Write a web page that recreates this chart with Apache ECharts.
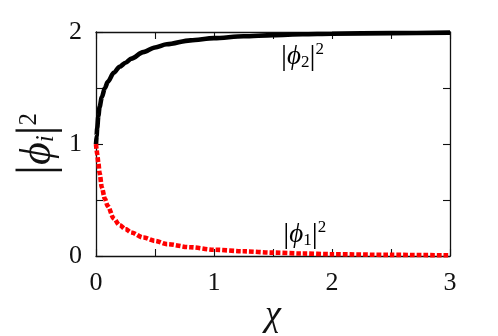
<!DOCTYPE html>
<html>
<head>
<meta charset="utf-8">
<script src="https://cdn.jsdelivr.net/npm/echarts@6/dist/echarts.min.js"></script>
<style>html,body{margin:0;padding:0;background:#fff}#c{width:498px;height:336px}</style>
</head>
<body>
<div id="c"></div>
<script>
var chi   = [0, 0.005, 0.01, 0.02, 0.03, 0.05, 0.075, 0.1, 0.15, 0.2, 0.25, 0.3, 0.4, 0.5, 0.6, 0.8, 1.0, 1.25, 1.5, 1.75, 2.0, 2.5, 3.0];
var phi2  = [1.0, 1.07, 1.14, 1.25, 1.33, 1.42, 1.50, 1.555, 1.635, 1.69, 1.725, 1.762, 1.82, 1.862, 1.89, 1.925, 1.945, 1.962, 1.972, 1.98, 1.985, 1.99, 1.994];
var phi1  = [1.0, 0.95, 0.91, 0.83, 0.743, 0.61, 0.51, 0.445, 0.335, 0.275, 0.24, 0.21, 0.165, 0.135, 0.106, 0.078, 0.056, 0.042, 0.03, 0.022, 0.016, 0.01, 0.006];
var xTicks = [0, 1, 2, 3];
var yTicks = [0, 1, 2];
var label2 = {x: 1.75, y: 1.78, sub: '2'};
var label1 = {x: 1.77, y: 0.19, sub: '1'};

var serif = "'Liberation Serif', 'DejaVu Serif', serif";
function pairs(xs, ys){ return xs.map(function(x,i){ return [x, ys[i]]; }); }
function fmtX(v){ return xTicks.indexOf(v) >= 0 ? String(v) : ''; }
function fmtY(v){ return yTicks.indexOf(v) >= 0 ? String(v) : ''; }
var rich = {
  n: {font: "30px " + serif, fill: '#000'},
  i: {font: "italic 27px " + serif, fill: '#000'},
  s: {font: "17px " + serif, fill: '#000', padding: [11, 0, 0, 0]},
  p: {font: "17px " + serif, fill: '#000', padding: [0, 0, 14, 0]}
};
var axisCommon = {
  type: 'value', min: 0, interval: 0.5,
  axisLine: {show: true, onZero: false, lineStyle: {color: '#111', width: 1.3}},
  axisTick: {show: true, inside: true, length: 7, lineStyle: {color: '#111', width: 1.1}},
  splitLine: {show: false}
};
var chart = echarts.init(document.getElementById('c'));
chart.setOption({
  animation: false,
  backgroundColor: '#fff',
  grid: {left: 96, right: 48, top: 32, bottom: 80, containLabel: false, outerBoundsMode: 'none'},
  xAxis: [
    Object.assign({}, axisCommon, {max: 3, position: 'bottom',
      name: 'χ', nameLocation: 'middle', nameGap: 42, nameMoveOverlap: false,
      nameTextStyle: {fontFamily: serif, fontStyle: 'italic', fontSize: 36, color: '#111'},
      axisLabel: {formatter: fmtX, fontFamily: serif, fontSize: 26, color: '#111', margin: 14}}),
    Object.assign({}, axisCommon, {max: 3, position: 'top', axisLabel: {show: false}})
  ],
  yAxis: [
    Object.assign({}, axisCommon, {max: 2, position: 'left',
      name: '{n||}{i|ϕ}{s|i}{n||}{p|2}', nameLocation: 'middle', nameGap: 33, nameRotate: 90,
      nameMoveOverlap: false,
      nameTextStyle: {rich: {
        n: {fontFamily: serif, fontSize: 50, color: '#111'},
        i: {fontFamily: serif, fontStyle: 'italic', fontSize: 44, color: '#111'},
        s: {fontFamily: serif, fontStyle: 'italic', fontSize: 25, color: '#111', padding: [16, 0, 0, 0]},
        p: {fontFamily: serif, fontSize: 25, color: '#111', padding: [0, 0, 18, 0]}
      }},
      axisLabel: {formatter: fmtY, fontFamily: serif, fontSize: 26, color: '#111', margin: 14}}),
    Object.assign({}, axisCommon, {max: 2, position: 'right', axisLabel: {show: false}})
  ],
  series: [
    {type: 'line', data: pairs(chi, phi2), smooth: 0.3, smoothMonotone: 'x', symbol: 'none',
     lineStyle: {color: '#000', width: 4.6}, z: 2},
    {type: 'line', data: pairs(chi, phi1), smooth: 0.3, smoothMonotone: 'x', symbol: 'none',
     lineStyle: {color: '#ff0000', width: 4.6, type: [4.7, 2], cap: 'butt'}, z: 3}
  ]
});
var graphics = [label2, label1].map(function(l){
  var p = chart.convertToPixel({gridIndex: 0}, [l.x, l.y]);
  return {type: 'text', x: p[0], y: p[1], z: 10,
    style: {text: '{n||}{i|ϕ}{s|' + l.sub + '}{n||}{p|2}', rich: rich, fill: '#000',
            font: "27px " + serif, align: 'center', verticalAlign: 'middle'}};
});
chart.setOption({graphic: graphics});
</script>
</body>
</html>
